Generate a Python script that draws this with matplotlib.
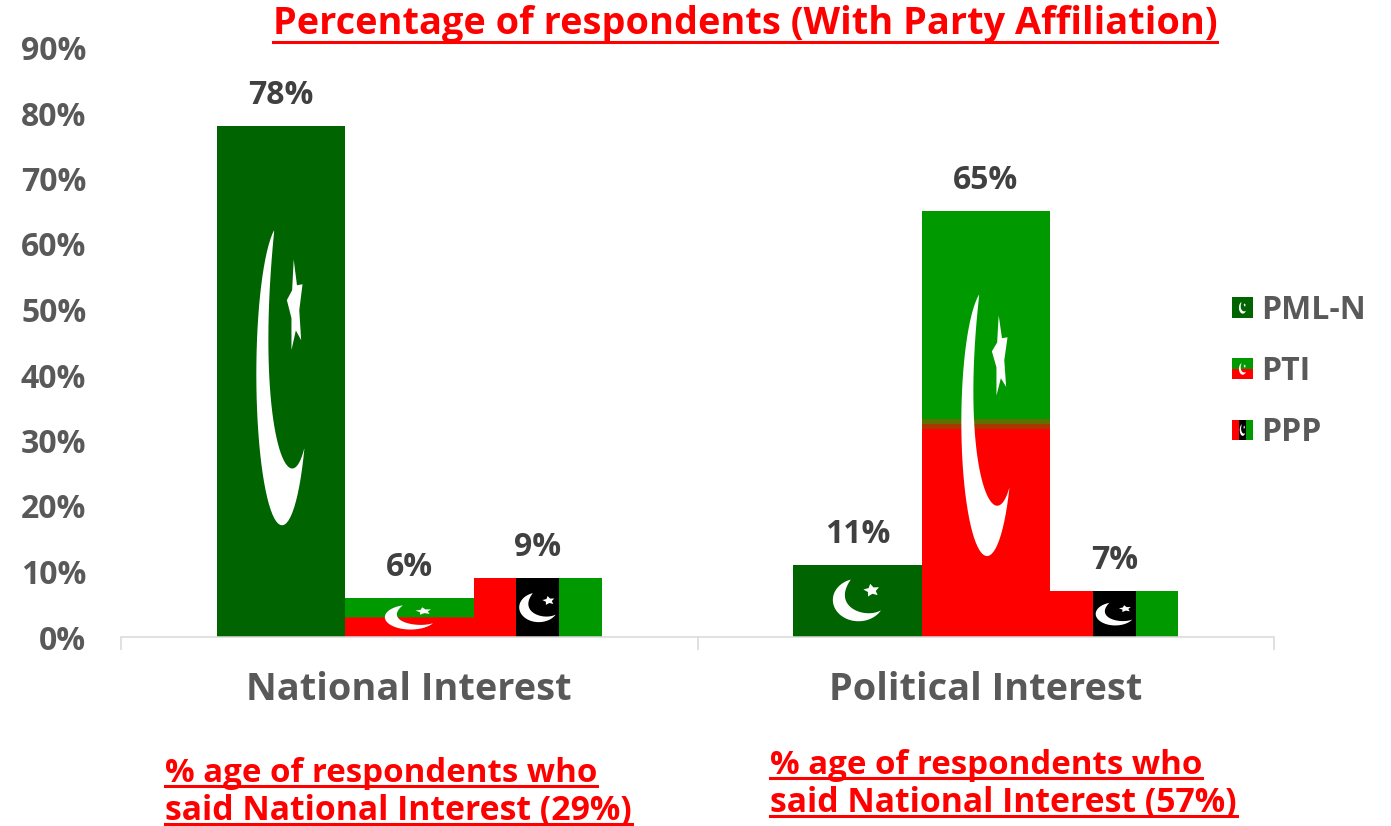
import numpy as np
import matplotlib
matplotlib.use("Agg")
import matplotlib.pyplot as plt
from matplotlib.path import Path
from matplotlib.patches import PathPatch, Rectangle, Patch
from matplotlib.legend_handler import HandlerBase
from matplotlib.lines import Line2D

categories = ["National Interest", "Political Interest"]
parties = ["PML-N", "PTI", "PPP"]
pml_n = [78, 11]
pti = [6, 65]
ppp = [9, 7]
title_text = "Percentage of respondents (With Party Affiliation)"
note_lines = [
    "% age of respondents who",
    "said National Interest (29%)",
    "% age of respondents who",
    "said National Interest (57%)",
]

DARK = "#006400"
GREEN = "#009900"
RED = "#FF0000"
GREY = "#595959"
FONT = "Open Sans"
W, H = 1391, 826
plt.rcParams["font.family"] = FONT
plt.rcParams["font.weight"] = "bold"

fig = plt.figure(figsize=(W / 100, H / 100), dpi=100)
ax = fig.add_axes([121 / W, (H - 637) / H, 1153 / W, 589.5 / H])
ax.set_xlim(0, 2)
ax.set_ylim(0, 90)
x = np.arange(len(categories)) + 0.5
bw = 128.5 / 576.5


def emblem(x0, y0, w, h, su=1.0, sv=1.0, dv=0.0, sdv=0.0, **kw):
    """Crescent and star in the unit square of a flag."""
    a = np.radians(np.linspace(108, 330, 50))
    ou = 0.51 + 0.20 * np.cos(a)
    ov = 0.505 + 0.315 * np.sin(a)
    P0, P1, P2, P3 = map(np.array, [(0.683, 0.35), (0.56, 0.22), (0.30, 0.40), (0.448, 0.80)])
    t = np.linspace(0, 1, 40)[:, None]
    inner = (1 - t) ** 3 * P0 + 3 * (1 - t) ** 2 * t * P1 + 3 * (1 - t) * t ** 2 * P2 + t ** 3 * P3
    cres = np.column_stack([np.r_[ou, inner[:, 0]], np.r_[ov, inner[:, 1]]])
    ang = np.radians(np.arange(10) * 36 + 100)
    rad = np.where(np.arange(10) % 2 == 0, 1.0, 0.5)
    star = np.column_stack([0.612 + 0.065 * rad * np.cos(ang), 0.645 + sdv + 0.10 * rad * np.sin(ang)])
    patches = []
    for pts in (cres, star):
        xs = x0 + w * (0.5 + su * (pts[:, 0] - 0.5))
        ys = y0 + h * (0.5 + sv * (pts[:, 1] - 0.5) + dv)
        patches.append(PathPatch(Path(np.column_stack([xs, ys]), closed=False), fc="white", ec="none", zorder=5, **kw))
    return patches


# PML-N
left = x - bw * 1.5
ax.bar(left, pml_n, bw, align="edge", color=DARK, zorder=2)
for xi, v in zip(left, pml_n):
    for p in emblem(xi, 0, bw, v, sv=0.94, dv=0.01):
        ax.add_patch(p)

# PTI
mid = x - bw * 0.5
vals = np.array(pti, dtype=float)
ax.bar(mid, vals * 0.5, bw, align="edge", color=RED, zorder=2)
ax.bar(mid, vals * 0.5, bw, bottom=vals * 0.5, align="edge", color=GREEN, zorder=2)
for xi, v in zip(mid, pti):
    ax.bar(xi, v * 0.012, bw, bottom=v * 0.50, align="edge", color="#5E7000", zorder=3)
    ax.bar(xi, v * 0.012, bw, bottom=v * 0.488, align="edge", color="#A83800", zorder=3)
    for p in emblem(xi, 0, bw, v, sdv=0.012):
        ax.add_patch(p)

# PPP
right = x + bw * 0.5
ax.bar(right, ppp, bw / 3, align="edge", color=RED, zorder=2)
ax.bar(right + bw / 3, ppp, bw / 3, align="edge", color="black", zorder=2)
ax.bar(right + 2 * bw / 3, ppp, bw / 3, align="edge", color=GREEN, zorder=2)
for xi, v in zip(right, ppp):
    for p in emblem(xi, 0, bw, v, su=0.76, sv=0.8):
        ax.add_patch(p)

# Value labels
for xs, vs in ((left, pml_n), (mid, pti), (right, ppp)):
    for xi, v in zip(xs, vs):
        ax.annotate(f"{v}%", (xi + bw / 2, v), xytext=(0, 22), textcoords="offset points",
                    ha="center", va="center", fontsize=23, color="#404040", fontweight="bold",
                    annotation_clip=False)

# Axes
for s in ("top", "left", "right"):
    ax.spines[s].set_visible(False)
ax.spines["bottom"].set_color("#D9D9D9")
ax.spines["bottom"].set_linewidth(1.1)
ax.set_yticks(np.arange(0, 91, 10))
ax.set_yticklabels([f"{v}%" for v in range(0, 91, 10)], fontsize=23, color=GREY, fontweight="bold")
ax.tick_params(axis="y", length=0, pad=25)
ax.set_xticks([0, 1, 2])
ax.set_xticklabels([])
ax.tick_params(axis="x", length=9.4, width=1.1, color="#D9D9D9")
for xi, c in zip(x, categories):
    ax.annotate(c, (xi, 0), xytext=(0, -53 * 0.72), textcoords="offset points",
                ha="center", va="center", fontsize=27.3, color=GREY, fontweight="bold",
                annotation_clip=False)


# Legend
class FlagHandler(HandlerBase):
    def create_artists(self, legend, orig, xd, yd, width, height, fontsize, trans):
        party = orig.get_label()
        x0, y0, w, h = -xd, -yd, width, height
        out = []
        su = 0.9
        if party == "PML-N":
            out.append(Rectangle((x0, y0), w, h, fc=DARK, ec="none", transform=trans))
        elif party == "PTI":
            out.append(Rectangle((x0, y0), w, h / 2, fc=RED, ec="none", transform=trans))
            out.append(Rectangle((x0, y0 + h / 2), w, h / 2, fc=GREEN, ec="none", transform=trans))
        else:
            su = 0.7
            for i, c in enumerate((RED, "black", GREEN)):
                out.append(Rectangle((x0 + i * w / 3, y0), w / 3, h, fc=c, ec="none", transform=trans))
        for p in emblem(x0, y0, w, h, su=su, sv=0.9):
            p.set_transform(trans)
            out.append(p)
        return out


handles = [Patch(label=p) for p in parties]
leg = fig.legend(handles=handles, labels=parties, handler_map={Patch: FlagHandler()},
                 loc="upper left", bbox_to_anchor=(1232 / W, 1 - 294 / H), bbox_transform=fig.transFigure,
                 frameon=False, fontsize=23, labelcolor=GREY, labelspacing=0.88,
                 handlelength=0.66, handleheight=0.633, handletextpad=0.25, borderpad=0, borderaxespad=0)
for t in leg.get_texts():
    t.set_fontweight("bold")


# Red underlined text
def red_text(s, px, py, size, gap, ha="left"):
    t = fig.text(px / W, 1 - py / H, s, ha=ha, va="center", fontsize=size, color=RED, fontweight="bold")
    fig.canvas.draw()
    bb = t.get_window_extent()
    uy = py + gap
    fig.add_artist(Line2D([bb.x0 / W, bb.x1 / W], [1 - uy / H] * 2, color=RED, lw=2.2,
                          transform=fig.transFigure))
    return t


red_text(title_text, 745, 24, 27.3, 18, ha="center")
note_x = [165, 165, 770, 770]
note_y = [773, 811, 765, 803]
note_size = [23.8, 24.3, 23.8, 24.3]
for s, px, py, size in zip(note_lines, note_x, note_y, note_size):
    red_text(s, px, py, size, 13)

fig.savefig("out.png", dpi=100, facecolor="white")
